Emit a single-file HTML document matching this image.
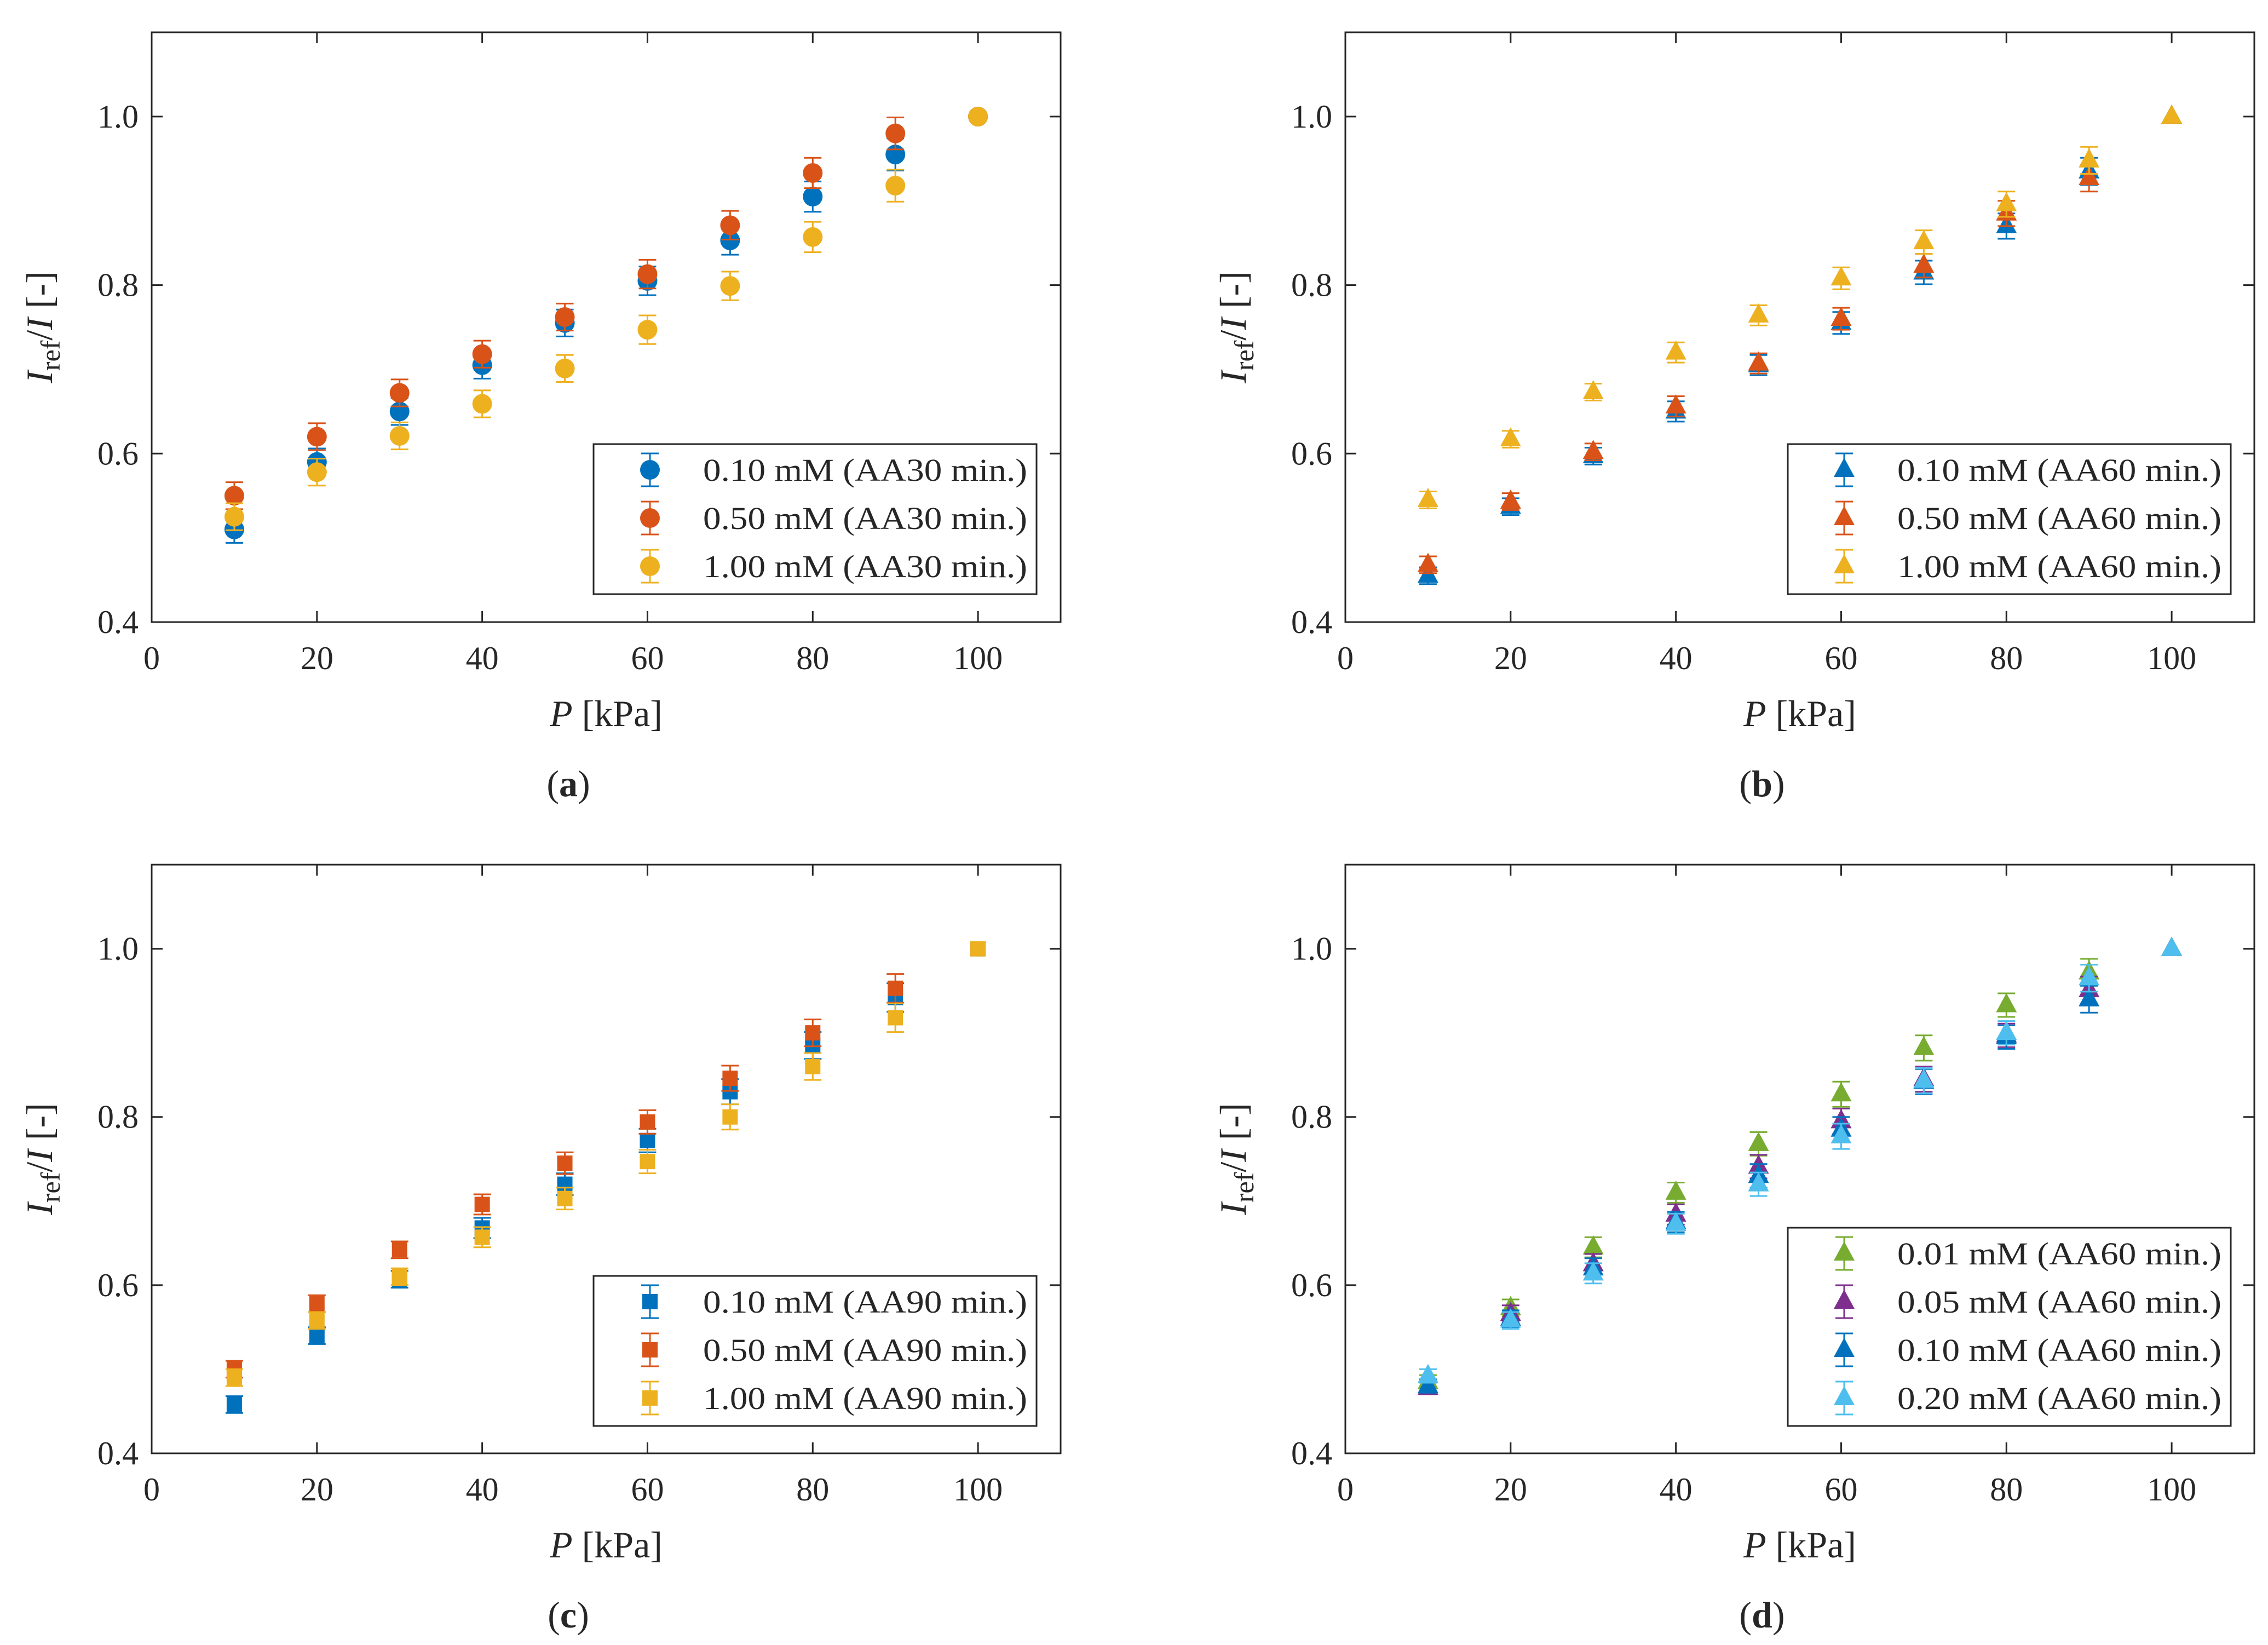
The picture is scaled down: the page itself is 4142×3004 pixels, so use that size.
<!DOCTYPE html>
<html><head><meta charset="utf-8">
<style>
html,body{margin:0;padding:0;background:#fff;}
svg{display:block;}
text{font-family:"Liberation Serif",serif;fill:#262626;}
</style></head>
<body>
<svg id="fig" width="4142" height="3004" viewBox="0 0 4142 3004" xmlns="http://www.w3.org/2000/svg"></svg>
<script>
const xVals = [10,20,30,40,50,60,70,80,90,100];
const xTicks = [0,20,40,60,80,100];
const yTicks = [0.4,0.6,0.8,1.0];
const yTickLabels = ["0.4","0.6","0.8","1.0"];

const aBlue  = [0.51,0.59,0.65,0.705,0.755,0.805,0.853,0.905,0.955,1.0];
const aRed   = [0.55,0.62,0.672,0.718,0.762,0.813,0.871,0.933,0.98,1.0];
const aYel   = [0.525,0.578,0.621,0.659,0.701,0.747,0.799,0.857,0.918,1.0];
const aErr   = [0.016,0.016,0.016,0.016,0.016,0.017,0.017,0.018,0.019,0];

const bBlue  = [0.455,0.537,0.597,0.65,0.705,0.755,0.815,0.87,0.935,1.0];
const bRed   = [0.468,0.543,0.602,0.656,0.707,0.76,0.823,0.885,0.927,1.0];
const bYel   = [0.545,0.617,0.673,0.72,0.764,0.808,0.851,0.896,0.948,1.0];
const bErr   = [0.01,0.01,0.01,0.012,0.012,0.013,0.014,0.015,0.016,0];

const cBlue  = [0.458,0.54,0.607,0.668,0.72,0.772,0.83,0.885,0.942,1.0];
const cRed   = [0.5,0.578,0.642,0.696,0.745,0.794,0.846,0.9,0.953,1.0];
const cYel   = [0.49,0.558,0.61,0.657,0.703,0.747,0.8,0.86,0.918,1.0];
const cErr   = [0.01,0.01,0.01,0.012,0.013,0.014,0.015,0.016,0.017,0];

const dGreen = [0.485,0.573,0.645,0.71,0.768,0.827,0.882,0.933,0.972,1.0];
const dPurp  = [0.478,0.566,0.625,0.684,0.741,0.795,0.845,0.897,0.951,1.0];
const dBlue  = [0.48,0.56,0.62,0.675,0.73,0.785,0.842,0.895,0.94,1.0];
const dLBlue = [0.492,0.558,0.614,0.673,0.72,0.777,0.843,0.9,0.965,1.0];
const dErr   = [0.008,0.01,0.012,0.012,0.014,0.015,0.015,0.014,0.016,0];

const C = {blue:"#0072BD",red:"#D95319",yel:"#EDB120",purp:"#7E2F8E",green:"#77AC30",lblue:"#4DBEEE"};
const NS="http://www.w3.org/2000/svg";
const svg=document.getElementById('fig');
function mk(tag,attrs,parent){const e=document.createElementNS(NS,tag);for(const k in attrs)e.setAttribute(k,attrs[k]);(parent||svg).appendChild(e);return e;}

function marker(g,shape,cx,cy,col){
  let m;
  if(shape==='circle'){m=mk('circle',{cx:cx,cy:cy,r:18,fill:col},g);}
  else if(shape==='square'){m=mk('rect',{x:cx-14,y:cy-14,width:28,height:28,fill:col},g);}
  else {m=mk('polygon',{points:`${cx},${cy-22} ${cx+19},${cy+13} ${cx-19},${cy+13}`,fill:col},g);}
  return m;
}
function errbar(g,cx,y1,y2,col){
  mk('line',{x1:cx,y1:y1,x2:cx,y2:y2,stroke:col,'stroke-width':3},g);
  mk('line',{x1:cx-16,y1:y1,x2:cx+16,y2:y1,stroke:col,'stroke-width':3},g);
  mk('line',{x1:cx-16,y1:y2,x2:cx+16,y2:y2,stroke:col,'stroke-width':3},g);
}

function panel(p){
  const g=mk('g',{});
  
  
  const L=p.L,R=p.R,T=p.T,B=p.B;
  const sx=v=>L+(v/110)*(R-L);
  const sy=v=>B-((v-0.4)/0.7)*(B-T);
  const frame=mk('rect',{x:L,y:T,width:R-L,height:B-T,fill:'none',stroke:'#262626','stroke-width':3},g);
  
  
  xTicks.forEach(t=>{
    const x=sx(t);
    mk('line',{x1:x,y1:B,x2:x,y2:B-20,stroke:'#262626','stroke-width':3},g);
    mk('line',{x1:x,y1:T,x2:x,y2:T+20,stroke:'#262626','stroke-width':3},g);
    const tx=mk('text',{x:x,y:B+86,'text-anchor':'middle','font-size':60},g);
    tx.textContent=t;
    
    
  });
  yTicks.forEach((t,i)=>{
    const y=sy(t);
    mk('line',{x1:L,y1:y,x2:L+20,y2:y,stroke:'#262626','stroke-width':3},g);
    mk('line',{x1:R,y1:y,x2:R-20,y2:y,stroke:'#262626','stroke-width':3},g);
    const ty=mk('text',{x:L-24,y:y+20,'text-anchor':'end','font-size':60},g);
    ty.textContent=yTickLabels[i];
    
    
  });
  const xl=mk('text',{x:(L+R)/2,y:B+190,'text-anchor':'middle','font-size':68},g);
  xl.innerHTML='<tspan font-style="italic">P</tspan> [kPa]';
  
  
  const yl=mk('text',{x:0,y:0,'text-anchor':'middle','font-size':68,transform:`translate(${L-182},${(T+B)/2}) rotate(-90)`},g);
  yl.innerHTML='<tspan font-style="italic">I</tspan><tspan font-size="50" dy="14">ref</tspan><tspan dy="-14">/</tspan><tspan font-style="italic">I</tspan> [-]';
  
  
  const cap=mk('text',{x:L+761,y:B+318,'text-anchor':'middle','font-size':68},g);
  cap.innerHTML='(<tspan font-weight="bold">'+p.id+'</tspan>)';
  
  
  p.series.forEach(s=>{
    const sg=mk('g',{},g);
    
    
    xVals.forEach((xv,i)=>{
      const cx=sx(xv),cy=sy(s.vals[i]);
      if(p.err[i]>0) errbar(sg,cx,sy(s.vals[i]+p.err[i]),sy(s.vals[i]-p.err[i]),s.col);
      const m=marker(sg,p.shape,cx,cy,s.col);
      
      
    });
  });
  const lg=mk('g',{},g);
  
  
  const lh=p.series.length*88+10;
  const lt=p.legT;
  mk('rect',{x:p.legL,y:lt,width:809,height:lh,fill:'#fff',stroke:'#262626','stroke-width':3},lg);
  p.series.forEach((s,i)=>{
    const cy=lt+47+i*88;
    const eg=mk('g',{},lg);
    
    
    errbar(eg,p.legL+103,cy-30,cy+30,s.col);
    marker(eg,p.shape,p.legL+103,cy,s.col);
    const t=mk('text',{x:p.legL+200,y:cy+20,'font-size':58,textLength:592,lengthAdjust:'spacingAndGlyphs'},eg);
    t.textContent=s.label;
  });
}

panel({id:'a',L:277,R:1937,T:59,B:1136,shape:'circle',err:aErr,legL:1084,legT:811,series:[
  {key:'0.10mM',vals:aBlue,col:C.blue,label:'0.10 mM (AA30 min.)'},
  {key:'0.50mM',vals:aRed,col:C.red,label:'0.50 mM (AA30 min.)'},
  {key:'1.00mM',vals:aYel,col:C.yel,label:'1.00 mM (AA30 min.)'}]});
panel({id:'b',L:2457,R:4117,T:59,B:1136,shape:'tri',err:bErr,legL:3265,legT:811,series:[
  {key:'0.10mM',vals:bBlue,col:C.blue,label:'0.10 mM (AA60 min.)'},
  {key:'0.50mM',vals:bRed,col:C.red,label:'0.50 mM (AA60 min.)'},
  {key:'1.00mM',vals:bYel,col:C.yel,label:'1.00 mM (AA60 min.)'}]});
panel({id:'c',L:277,R:1937,T:1579,B:2654,shape:'square',err:cErr,legL:1084,legT:2330,series:[
  {key:'0.10mM',vals:cBlue,col:C.blue,label:'0.10 mM (AA90 min.)'},
  {key:'0.50mM',vals:cRed,col:C.red,label:'0.50 mM (AA90 min.)'},
  {key:'1.00mM',vals:cYel,col:C.yel,label:'1.00 mM (AA90 min.)'}]});
panel({id:'d',L:2457,R:4117,T:1579,B:2654,shape:'tri',err:dErr,legL:3265,legT:2242,series:[
  {key:'0.01mM',vals:dGreen,col:C.green,label:'0.01 mM (AA60 min.)'},
  {key:'0.05mM',vals:dPurp,col:C.purp,label:'0.05 mM (AA60 min.)'},
  {key:'0.10mM',vals:dBlue,col:C.blue,label:'0.10 mM (AA60 min.)'},
  {key:'0.20mM',vals:dLBlue,col:C.lblue,label:'0.20 mM (AA60 min.)'}]});
</script>
</body></html>
